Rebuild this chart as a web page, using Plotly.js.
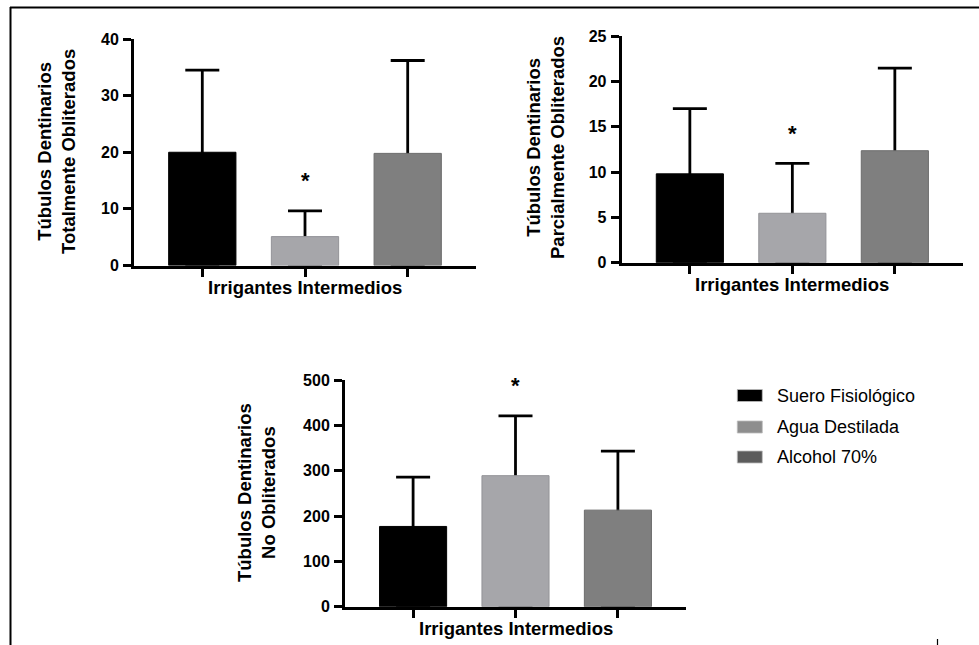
<!DOCTYPE html>
<html>
<head>
<meta charset="utf-8">
<script src="https://cdn.plot.ly/plotly-3.0.1.min.js"></script>
<style>
  html, body { margin: 0; padding: 0; background: #fff; }
  #chart { width: 979px; height: 645px; }
</style>
</head>
<body>
<div id="chart"></div>
<script>
// ---- Data ----
const groups = ['Suero Fisiológico', 'Agua Destilada', 'Alcohol 70%'];
const totalMean = [20.0, 5.1, 19.8];
const totalSD = [14.5, 4.55, 16.4];
const parcialMean = [9.8, 5.45, 12.35];
const parcialSD = [7.2, 5.5, 9.1];
const noObMean = [177, 289, 213];
const noObSD = [109, 132, 130];
const starGroup = 'Agua Destilada';
const xTitle = 'Irrigantes Intermedios';
const yTitles = [
  'Túbulos Dentinarios<br>Totalmente Obliterados',
  'Túbulos Dentinarios<br>Parcialmente Obliterados',
  'Túbulos Dentinarios<br>No Obliterados'
];
const yRanges = [[0, 40], [0, 25], [0, 500]];
const yTicks = [10, 5, 100];

// ---- Styles ----
const FONT = 'Liberation Sans, Arial, sans-serif';
const barColors = ['#000000', '#a6a6aa', '#7f7f7f'];
const barLines = ['#000000', '#949498', '#6c6c6c'];
const legendColors = ['#000000', '#8e8e8e', '#5c5c5c'];
const W = 979, H = 645;
const px = v => v / W;
const py = v => 1 - v / H;

const panels = [
  { mean: totalMean, sd: totalSD, xd: [134, 476], yd: [265.5, 39] },
  { mean: parcialMean, sd: parcialSD, xd: [621.7, 963], yd: [262.7, 36] },
  { mean: noObMean, sd: noObSD, xd: [345, 686], yd: [606.7, 380] }
];

const data = [];
const layout = {
  width: W, height: H,
  margin: { l: 0, r: 0, t: 0, b: 0 },
  paper_bgcolor: '#fff', plot_bgcolor: '#fff',
  showlegend: false,
  barmode: 'overlay',
  font: { family: FONT, color: '#000' },
  annotations: [],
  shapes: []
};

panels.forEach((p, i) => {
  const n = i === 0 ? '' : String(i + 1);
  // error bars (upper whisker only visible; the rest hides under the bar / axis line)
  data.push({
    type: 'bar',
    x: groups,
    y: p.mean,
    xaxis: 'x' + n, yaxis: 'y' + n,
    marker: { color: 'rgba(0,0,0,0)', line: { width: 0 } },
    error_y: { type: 'data', array: p.sd, symmetric: false, arrayminus: p.mean,
               color: '#000', thickness: 2.8, width: 17 },
    width: 0.655,
    hoverinfo: 'skip'
  });
  // bars
  data.push({
    type: 'bar',
    x: groups,
    y: p.mean,
    xaxis: 'x' + n, yaxis: 'y' + n,
    marker: { color: barColors, line: { color: barLines, width: 1 } },
    width: 0.655,
    hoverinfo: 'x+y'
  });
  layout['xaxis' + n] = {
    domain: [px(p.xd[0]), px(p.xd[1])],
    anchor: 'y' + n,
    type: 'category',
    range: [-0.665, 2.665],
    showticklabels: false,
    ticks: 'outside', ticklen: 8, tickwidth: 2.5, tickcolor: '#000',
    showline: true, linecolor: '#000', linewidth: 3,
    showgrid: false, zeroline: false, fixedrange: true
  };
  layout['yaxis' + n] = {
    domain: [py(p.yd[0]), py(p.yd[1])],
    anchor: 'x' + n,
    range: yRanges[i], dtick: yTicks[i], tick0: 0,
    ticks: 'outside', ticklen: 8, tickwidth: 2.5, tickcolor: '#000',
    showline: true, linecolor: '#000', linewidth: 3,
    showgrid: false, zeroline: false, fixedrange: true,
    tickfont: { size: 16, family: FONT, weight: 'bold' },
    ticklabelstandoff: 1
  };
  // x title
  layout.annotations.push({
    xref: 'paper', yref: 'paper',
    x: px((p.xd[0] + p.xd[1]) / 2), y: py(p.yd[0] + 22),
    xanchor: 'center', yanchor: 'middle', showarrow: false,
    text: '<b>' + xTitle + '</b>',
    font: { size: 18.5 }
  });
  // significance star
  const si = groups.indexOf(starGroup);
  layout.annotations.push({
    xref: 'x' + n, yref: 'y' + n,
    x: starGroup, y: p.mean[si] + p.sd[si],
    yshift: 30, showarrow: false,
    xanchor: 'center', yanchor: 'middle',
    text: '<b>*</b>', font: { size: 22 }
  });
});

// y titles
const yTitlePos = [[56, 152], [545, 148], [256, 493]];
yTitles.forEach((t, i) => {
  layout.annotations.push({
    xref: 'paper', yref: 'paper',
    x: px(yTitlePos[i][0]), y: py(yTitlePos[i][1]),
    xanchor: 'center', yanchor: 'middle', showarrow: false,
    textangle: -90,
    text: '<b>' + t + '</b>',
    font: { size: 18.5 }
  });
});

// legend (custom swatches)
const legendRowsY = [395.5, 427, 457];
groups.forEach((g, i) => {
  layout.shapes.push({
    type: 'rect', xref: 'paper', yref: 'paper',
    x0: px(737.3), x1: px(762.3),
    y0: py(legendRowsY[i] - 6), y1: py(legendRowsY[i] + 6),
    fillcolor: legendColors[i], line: { color: '#bdbdbd', width: 0.8 }
  });
  layout.annotations.push({
    xref: 'paper', yref: 'paper',
    x: px(775), y: py(legendRowsY[i]),
    xanchor: 'left', yanchor: 'middle', showarrow: false,
    text: g, font: { size: 18 }
  });
});

// frame lines
layout.shapes.push(
  { type: 'line', xref: 'paper', yref: 'paper', x0: px(10), x1: px(979), y0: py(7.5), y1: py(7.5), line: { color: '#000', width: 2 } },
  { type: 'line', xref: 'paper', yref: 'paper', x0: px(10.5), x1: px(10.5), y0: py(7), y1: py(645), line: { color: '#000', width: 2 } },
  { type: 'line', xref: 'paper', yref: 'paper', x0: px(937.5), x1: px(937.5), y0: py(639), y1: py(645), line: { color: '#000', width: 1.2 } }
);

Plotly.newPlot('chart', data, layout, { displayModeBar: false });
</script>
</body>
</html>
